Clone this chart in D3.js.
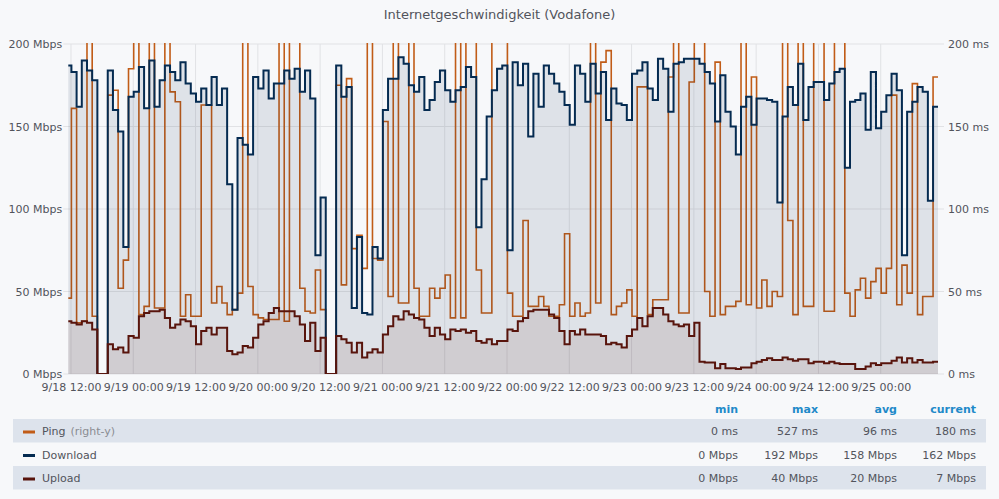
<!DOCTYPE html>
<html><head><meta charset="utf-8">
<script src="https://cdn.jsdelivr.net/npm/d3@7"></script>
<style>
body{margin:0;background:#f7f8fa;}
svg{display:block;font-family:"DejaVu Sans",sans-serif;}
</style></head><body>
<svg id="c" width="999" height="499"></svg>
<script>
// ---- data (hourly samples) ----
const firstSample = new Date(2018, 8, 18, 11, 5);
const domainStart = new Date(2018, 8, 18, 11, 29);
const domainEnd = new Date(2018, 8, 25, 11, 2);

const download = [187,183,162,190,184,178,0,0,184,160,147,77,168,171,186,161,190,162,178,187,183,178,189,176,170,165,173,163,180,163,173,115,39,143,139,133,180,173,184,167,176,176,184,179,185,171,184,167,72,107,0,0,
187,168,174,40,83,37,36,77,70,160,179,179,192,188,175,171,180,160,166,177,184,172,165,172,174,186,180,89,118,156,172,185,187,75,189,175,188,144,182,162,187,182,176,171,163,151,187,182,165,188,170,183,154,173,164,163,154,182,184,189,173,166,
191,185,159,188,189,191,191,191,188,183,176,153,181,159,150,133,162,168,151,167,167,166,165,104,156,174,163,188,154,174,177,177,166,176,183,185,125,165,166,170,148,183,149,159,169,182,172,72,159,165,174,171,105,162];

const upload = [32,31,30,32,31,27,0,0,18,15,16,13,23,22,35,37,38,38,39,34,28,30,33,32,29,18,26,28,24,28,28,14,12,13,17,16,22,30,32,37,40,38,38,38,35,30,20,31,14,22,0,0,
23,21,19,13,19,10,13,15,13,24,29,35,33,38,36,34,33,28,23,28,24,21,27,26,27,25,26,20,19,21,18,20,20,27,26,32,34,38,39,39,39,36,34,26,18,26,24,27,24,24,24,23,18,19,18,16,23,27,34,29,35,40,
40,36,32,30,29,30,23,31,7.5,7,7,3.5,6,3.5,3.5,3,4,4,6.5,7.5,8.5,9.5,8.5,8.5,10,9,8,9,9,6.5,7.5,7.5,6.5,7.5,6.5,6,6,6,3,3,4.5,6.5,5.5,6.5,6.5,8,10,7,9.5,7,8.5,7,7,7.5];

const ping = [46,161,31,32,400,35,0,0,169,172,52,69,185,300,36,41,280,40,40,350,171,165,35,48,35,35,163,163,43,53,43,36,39,49,400,53,36,34,33,33,33,450,32,260,300,52,38,37,63,39,0,0,
175,54,179,76,84,64,400,70,69,153,47,380,43,43,320,52,35,35,52,46,52,60,34,527,34,300,280,63,37,37,310,290,270,49,35,35,93,41,41,47,41,35,35,42,85,35,43,35,37,400,43,189,196,36,41,43,51,35,174,174,36,45,
45,45,180,400,37,37,177,300,250,50,35,189,36,41,41,44,350,42,180,40,57,41,50,47,300,93,36,350,41,41,300,300,38,38,320,300,49,35,51,58,46,56,64,49,64,169,42,66,49,176,36,47,47,180];

const xTickLabels = ["9/18 12:00","9/19 00:00","9/19 12:00","9/20 00:00","9/20 12:00","9/21 00:00","9/21 12:00","9/22 00:00","9/22 12:00","9/23 00:00","9/23 12:00","9/24 00:00","9/24 12:00","9/25 00:00"];
const yTicks = [0,50,100,150,200];

const seriesNames = ["Ping","Download","Upload"];
const seriesColors = ["#C15C17","#052B51","#58140C"];
const statHeaders = ["min","max","avg","current"];
const statMin = ["0 ms","0 Mbps","0 Mbps"];
const statMax = ["527 ms","192 Mbps","40 Mbps"];
const statAvg = ["96 ms","158 Mbps","20 Mbps"];
const statCur = ["180 ms","162 Mbps","7 Mbps"];

// ---- layout ----
const svg = d3.select("#c");
const L = 68.3, R = 938, T = 44, B = 374;
const parseTick = d3.timeParse("%Y %m/%d %H:%M");
const tickDates = xTickLabels.map(s => parseTick("2018 " + s));

const x = d3.scaleTime().domain([domainStart, domainEnd]).range([L, R]);
const yL = d3.scaleLinear().domain([0, 200]).range([B, T]);
const yR = d3.scaleLinear().domain([0, 200]).range([B, T]);

const HOUR = 3600 * 1000;
function toPts(arr) {
  const pts = arr.map((v, i) => ({t: new Date(firstSample.getTime() + i * HOUR), v}));
  pts.push({t: domainEnd, v: arr[arr.length - 1]});
  return pts;
}

svg.append("rect").attr("width", 999).attr("height", 499).attr("fill", "#f7f8fa");
svg.append("text").attr("x", 499.5).attr("y", 19).attr("text-anchor", "middle")
  .attr("font-size", 13).attr("fill", "#52545c").text("Internetgeschwindigkeit (Vodafone)");

// grid
const grid = svg.append("g");
grid.selectAll(".h").data(yTicks).join("line")
  .attr("x1", L - 5).attr("x2", R + 6).attr("y1", d => yL(d)).attr("y2", d => yL(d))
  .attr("stroke", "#e1e2e5").attr("stroke-width", 1);
grid.selectAll(".v").data(tickDates).join("line")
  .attr("x1", d => x(d)).attr("x2", d => x(d)).attr("y1", T).attr("y2", B)
  .attr("stroke", "#e1e2e5").attr("stroke-width", 1);

// axes
const axL = svg.append("g").attr("transform", `translate(${L - 6},0)`)
  .call(d3.axisLeft(yL).tickValues(yTicks).tickFormat(d => d + " Mbps").tickSize(0).tickPadding(0));
const axR = svg.append("g").attr("transform", `translate(${R + 10},0)`)
  .call(d3.axisRight(yR).tickValues(yTicks).tickFormat(d => d + " ms").tickSize(0).tickPadding(0));
const axB = svg.append("g").attr("transform", `translate(0,${B})`)
  .call(d3.axisBottom(x).tickValues(tickDates).tickFormat(d3.timeFormat("%-m/%-d %H:%M")).tickSize(0).tickPadding(9));
[axL, axR, axB].forEach(a => {
  a.select(".domain").remove();
  a.selectAll("text").attr("font-family", "DejaVu Sans").attr("font-size", 11).attr("fill", "#52545c");
});

// clip
svg.append("clipPath").attr("id", "clip").append("rect")
  .attr("x", L).attr("y", T - 1).attr("width", R - L).attr("height", B - T + 1);
const plot = svg.append("g").attr("clip-path", "url(#clip)");

const lineL = d3.line().curve(d3.curveStepAfter).x(d => x(d.t)).y(d => yL(d.v));
const lineR = d3.line().curve(d3.curveStepAfter).x(d => x(d.t)).y(d => yR(Math.min(d.v, 260)));
const areaL = d3.area().curve(d3.curveStepAfter).x(d => x(d.t)).y0(yL(0)).y1(d => yL(d.v));

// ping (right-y)
plot.append("path").datum(toPts(ping)).attr("d", lineR)
  .attr("fill", "none").attr("stroke", seriesColors[0]).attr("stroke-width", 1.6);
// download
plot.append("path").datum(toPts(download)).attr("d", areaL).attr("fill", seriesColors[1]).attr("fill-opacity", 0.1);
plot.append("path").datum(toPts(download)).attr("d", lineL)
  .attr("fill", "none").attr("stroke", seriesColors[1]).attr("stroke-width", 2);
// upload
plot.append("path").datum(toPts(upload)).attr("d", areaL).attr("fill", seriesColors[2]).attr("fill-opacity", 0.1);
plot.append("path").datum(toPts(upload)).attr("d", lineL)
  .attr("fill", "none").attr("stroke", seriesColors[2]).attr("stroke-width", 2);

// legend
const colX = [738, 818, 897, 976];
const lg = svg.append("g");
lg.selectAll(".hd").data(statHeaders).join("text")
  .attr("x", (d, i) => colX[i]).attr("y", 413).attr("text-anchor", "end")
  .attr("font-size", 11).attr("font-weight", "bold").attr("fill", "#1f8ac9").text(d => d);
const rowY = [419, 442.5, 466];
const stats = seriesNames.map((n, i) => [statMin[i], statMax[i], statAvg[i], statCur[i]]);
seriesNames.forEach((name, i) => {
  const g = lg.append("g").attr("transform", `translate(0,${rowY[i]})`);
  if (i !== 1) g.append("rect").attr("x", 13).attr("y", 0).attr("width", 973).attr("height", 23.5).attr("fill", "#dde3ec");
  g.append("rect").attr("x", 23).attr("y", 11.5).attr("width", 12).attr("height", 3).attr("fill", seriesColors[i]);
  const t = g.append("text").attr("x", 42).attr("y", 16).attr("font-size", 11).attr("fill", "#52545c").text(name);
  if (i === 0) t.append("tspan").attr("dx", 5).attr("fill", "#8a8c92").text("(right-y)");
  g.selectAll(".v").data(stats[i]).join("text")
    .attr("x", (d, j) => colX[j]).attr("y", 16).attr("text-anchor", "end")
    .attr("font-size", 11).attr("fill", "#52545c").text(d => d);
});
</script>
</body></html>
